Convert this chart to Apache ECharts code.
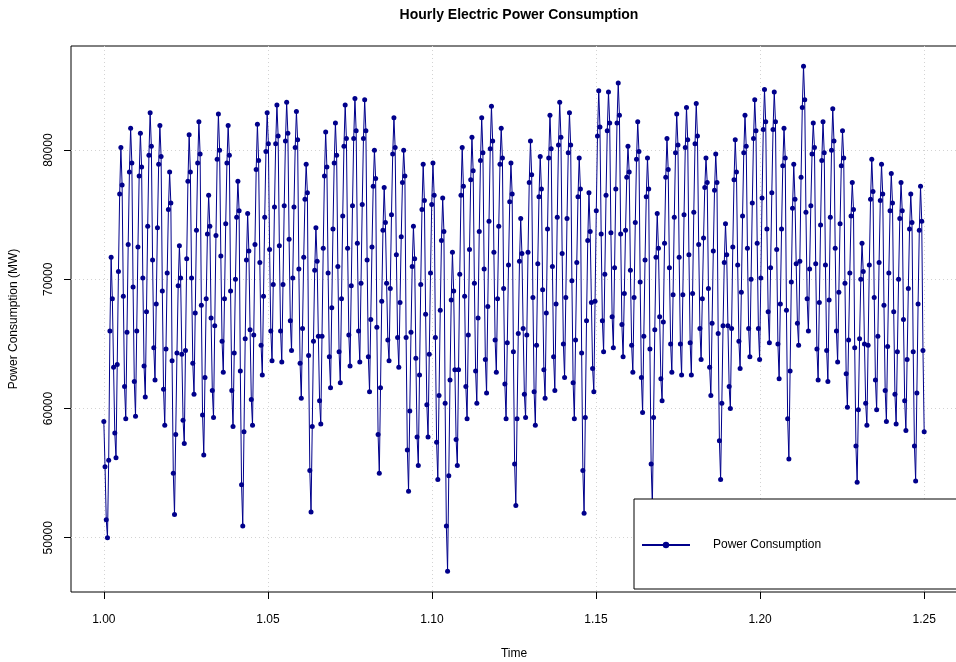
<!DOCTYPE html>
<html>
<head>
<meta charset="utf-8">
<script src="https://cdn.jsdelivr.net/npm/echarts@6/dist/echarts.min.js"></script>
<style>
 html, body { margin: 0; padding: 0; background: #fff; }
 #power { width: 956px; height: 662px; }
</style>
</head>
<body>
<div id="power"></div>
<script>
// hourly load, one value every 3 hours, one array per week (MW)
var week1 = [
 59000, 55500, 51400, 50000, 56000, 66000, 71700, 68500,
 63200, 58100, 56200, 63400, 70600, 76600, 80200, 77300,
 68700, 61700, 59200, 65900, 72700, 78300, 81700, 79000,
 69400, 62100, 59400, 66000, 72500, 78000, 81300, 78700,
 70100, 63300, 60900, 67500, 74100, 79600, 82900, 80300,
 71500, 64700, 62200, 68100, 74000, 78900, 81900, 79500,
 69100, 61500, 58700, 64600, 70500, 75400, 78300, 75900
];
var week2 = [
 63700, 55000, 51800, 58000, 64300, 69500, 72600, 70100,
 64200, 59100, 57300, 64500, 71600, 77600, 81200, 78300,
 70100, 63500, 61100, 67400, 73800, 79000, 82200, 79700,
 68000, 59500, 56400, 62400, 68500, 73500, 76500, 74100,
 67000, 61400, 59300, 66400, 73400, 79300, 82800, 80000,
 71800, 65200, 62800, 68500, 74300, 79000, 81900, 79600,
 69100, 61400, 58600, 64300, 70000, 74800, 77600, 75300
];
var week3 = [
 62900, 54100, 50900, 58200, 65400, 71500, 75100, 72200,
 66100, 60700, 58700, 65700, 72700, 78500, 82000, 79200,
 71300, 64900, 62600, 68700, 74800, 79900, 82900, 80500,
 72300, 66000, 63700, 69600, 75600, 80500, 83500, 81100,
 72600, 66000, 63600, 69600, 75700, 80700, 83700, 81300,
 73100, 66800, 64500, 70100, 75600, 80200, 83000, 80800,
 70800, 63500, 60800, 66200, 71700, 76200, 78900, 76700
];
var week4 = [
 64100, 55200, 52000, 58600, 65200, 70700, 74000, 71400,
 65600, 60600, 58800, 65600, 72400, 78000, 81400, 78700,
 70500, 64000, 61600, 67800, 73900, 79000, 82100, 79600,
 71000, 64400, 62000, 68500, 74900, 80300, 83500, 80900,
 72400, 65700, 63300, 69500, 75700, 80900, 84000, 81500,
 72800, 66000, 63600, 69700, 75800, 80900, 83900, 81500,
 71500, 64000, 61300, 66900, 72500, 77200, 80000, 77800
];
var week5 = [
 66300, 58000, 55000, 61600, 68300, 73800, 77100, 74400,
 69700, 65300, 63700, 69300, 75000, 79700, 82500, 80200,
 71900, 65500, 63200, 68200, 73300, 77500, 80000, 78000,
 65500, 56800, 53600, 59800, 65900, 71000, 74100, 71600,
 63900, 57800, 55600, 62600, 69600, 75400, 78900, 76100,
 67300, 60300, 57800, 64200, 70500, 75800, 79000, 76500,
 65500, 57400, 54500, 61000, 67600, 73000, 76300, 73700
];
var week6 = [
 60400, 50900, 47400, 54800, 62200, 68400, 72100, 69100,
 63000, 57600, 55600, 63000, 70400, 76500, 80200, 77200,
 68700, 61700, 59200, 65700, 72300, 77700, 81000, 78400,
 69700, 62900, 60400, 67000, 73700, 79200, 82500, 79800,
 70800, 63800, 61200, 67900, 74500, 80100, 83400, 80700,
 72100, 65300, 62800, 68500, 74100, 78900, 81700, 79400,
 69300, 61900, 59200, 65100, 71100, 76000, 79000, 76600
];
var week7 = [
 64400, 55700, 52500, 59200, 65800, 71400, 74700, 72000,
 66200, 61100, 59300, 65700, 72100, 77500, 80700, 78100,
 68600, 61300, 58700, 64900, 71200, 76400, 79500, 77000,
 69200, 63000, 60800, 67400, 73900, 79400, 82700, 80100,
 71000, 64000, 61400, 68100, 74800, 80400, 83700, 81000,
 72000, 65000, 62400, 68600, 74700, 79800, 82900, 80400,
 69900, 62000, 59200, 65300, 71300, 76400, 79400, 77000
];
var week8 = [
 64300, 55200, 51900, 59300, 66800, 73000, 76700, 73700,
 68200, 63100, 61300, 68300, 75300, 81100, 84600, 81800,
 73500, 66800, 64400, 70400, 76500, 81500, 84500, 82100,
 73600, 67100, 64700, 70900, 77000, 82100, 85200, 82700,
 73500, 66500, 64000, 68900, 73800, 77900, 80300, 78300,
 70700, 64900, 62800, 68600, 74400, 79300, 82200, 79900,
 69800, 62400, 59700, 65600, 71500, 76400, 79400, 77000
];
var week9 = [
 64600, 55700, 52500, 59300, 66100, 71700, 75100, 72400,
 67100, 62300, 60600, 66700, 72800, 77900, 80900, 78500,
 70900, 65000, 62800, 68800, 74800, 79800, 82800, 80400,
 71700, 65000, 62600, 68800, 75000, 80200, 83300, 80800,
 71900, 65100, 62600, 68900, 75200, 80500, 83600, 81100,
 72700, 66200, 63800, 68500, 73200, 77100, 79400, 77500,
 69300, 63200, 61000, 66600, 72200, 76900, 79700, 77500
];
var week10 = [
 65800, 57500, 54500, 60400, 66400, 71300, 74300, 71900,
 66400, 61700, 60000, 66200, 72500, 77700, 80800, 78300,
 71100, 65200, 63100, 69000, 74900, 79800, 82700, 80300,
 72400, 66200, 64000, 70000, 75900, 80900, 83900, 81500,
 72800, 66200, 63800, 70100, 76300, 81600, 84700, 82200,
 73900, 67500, 65100, 70900, 76700, 81600, 84500, 82200,
 72300, 65000, 62300, 68100, 73900, 78800, 81700, 79400
];
var week11 = [
 67600, 59200, 56100, 62900, 69800, 75500, 78900, 76200,
 71200, 66600, 64900, 71400, 77900, 83300, 86500, 83900,
 75200, 68500, 66000, 70800, 75700, 79700, 82100, 80200,
 71200, 64600, 62200, 68200, 74200, 79200, 82200, 79800,
 71100, 64500, 62100, 68400, 74800, 80000, 83200, 80700,
 72400, 66000, 63600, 69000, 74300, 78800, 81500, 79400,
 69700, 62700, 60100, 65300, 70500, 74900, 77500, 75400
];
var week12 = [
 64700, 57100, 54300, 59900, 65400, 70000, 72800, 70600,
 65000, 60400, 58700, 64900, 71100, 76200, 79300, 76800,
 68600, 62200, 59900, 65600, 71300, 76100, 78900, 76600,
 68000, 61400, 59000, 64800, 70500, 75300, 78200, 75900,
 67500, 61100, 58800, 64400, 70000, 74700, 77500, 75300,
 66900, 60600, 58300, 63800, 69300, 73900, 76600, 74400,
 64400, 57100, 54400, 61200, 68100, 73800, 77200, 74500
];
var lastHours = [64500, 58200];

var xTicks = [1.00, 1.05, 1.10, 1.15, 1.20, 1.25];
var yTicks = [50000, 60000, 70000, 80000];
var tStart = 1.00, tEnd = 1.25;

var load = [].concat(week1, week2, week3, week4, week5, week6, week7, week8,
                     week9, week10, week11, week12, lastHours);
var seriesData = load.map(function (v, i) {
    return [tStart + i * (tEnd - tStart) / (load.length - 1), v];
});

var chart = echarts.init(document.getElementById('power'), null, { renderer: 'canvas' });
var font = 'Liberation Sans, Arial, Helvetica, sans-serif';

chart.setOption({
    animation: false,
    backgroundColor: '#fff',
    textStyle: { fontFamily: font },
    title: {
        text: 'Hourly Electric Power Consumption',
        left: 514, top: 3, textAlign: 'center',
        textStyle: { fontSize: 14, fontWeight: 'bold', color: '#000', fontFamily: font }
    },
    legend: {
        data: ['Power Consumption'],
        left: 634, top: 499,
        padding: [40, 160, 38, 7],
        backgroundColor: '#fff',
        borderColor: '#000', borderWidth: 1, borderRadius: 0,
        itemWidth: 48, itemHeight: 8,
        z: 10,
        textStyle: { fontSize: 12, color: '#000', fontFamily: font, padding: [0, 0, 0, 18] }
    },
    grid: { left: 71, right: -1, top: 46, bottom: 70, show: true, borderColor: '#000', borderWidth: 1,
            containLabel: false, outerBoundsMode: 'none' },
    xAxis: {
        type: 'value', min: 0.99, max: 1.26,
        name: 'Time', nameLocation: 'middle', nameGap: 56,
        nameTextStyle: { fontSize: 12, color: '#000', fontFamily: font },
        axisLine: { show: false },
        axisTick: { show: true, length: 7, customValues: xTicks, lineStyle: { color: '#000' } },
        axisLabel: { fontSize: 12, color: '#000', margin: 22, customValues: xTicks,
                     formatter: function (v) { return v.toFixed(2); } },
        splitLine: { show: true, lineStyle: { color: '#d3d3d3', type: [1, 3], width: 1 } }
    },
    yAxis: {
        type: 'value', min: 45800, max: 88060,
        name: 'Power Consumption (MW)', nameLocation: 'middle', nameGap: 51, nameRotate: 90,
        nameTextStyle: { fontSize: 12, color: '#000', fontFamily: font },
        axisLine: { show: false },
        axisTick: { show: true, length: 7, customValues: yTicks, lineStyle: { color: '#000' } },
        axisLabel: { fontSize: 12, color: '#000', margin: 16, rotate: 90, customValues: yTicks,
                     formatter: function (v) { return String(v); } },
        splitLine: { show: true, lineStyle: { color: '#d3d3d3', type: [1, 3], width: 1 } }
    },
    series: [{
        name: 'Power Consumption',
        type: 'line',
        data: seriesData,
        showSymbol: true,
        symbol: 'circle',
        symbolSize: 5,
        color: '#00008B',
        lineStyle: { color: '#00008B', width: 1 },
        itemStyle: { color: '#00008B' },
        emphasis: { disabled: true }
    }]
});
</script>
</body>
</html>
